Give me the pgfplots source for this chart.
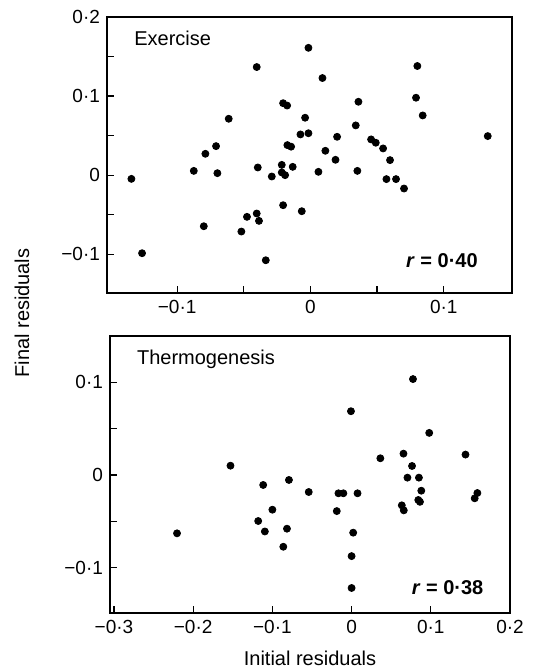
\documentclass[border=0pt]{standalone}
\usepackage{fontspec}
\setmainfont{Liberation Sans}
\usepackage{pgfplots}
\pgfplotsset{compat=1.18}
\begin{document}
\begin{tikzpicture}[x=1pt,y=1pt]
\useasboundingbox (0,0) rectangle (271.5,336);
\pgfplotsset{
 myax/.style={scale only axis, anchor=south west,
  axis line style={line width=1pt},
  tick style={line width=0.6pt, black},
  major tick length=3.5pt, tick align=inside,
  xtick pos=bottom, ytick pos=left,
  tick label style={font=\fontsize{9.5}{10}\selectfont},
 },
 dots/.style={only marks, mark=*, mark size=1.75pt, draw=black, fill=black, mark options={draw=black, fill=black}},
}
\begin{axis}[myax, at={(53.5pt,189.5pt)}, width=202.5pt, height=138pt,
 xmin=-0.1526, xmax=0.1512, ymin=-0.149, ymax=0.2,
 xtick={-0.1,-0.05,0,0.05,0.1}, xticklabels={−0·1,,0,,0·1},
 ytick={-0.1,-0.05,0,0.05,0.1,0.15,0.2}, yticklabels={−0·1,,0,,0·1,,0·2}]
\addplot[dots] coordinates {
(-0.1343,-0.0047) (-0.1263,-0.0987) (-0.0875,0.0054) (-0.0788,0.027) (-0.0708,0.0367)
(-0.0698,0.0025) (-0.080,-0.0646) (-0.0613,0.0713) (-0.0403,0.1367) (-0.0518,-0.0713)
(-0.0476,-0.0527) (-0.0403,-0.0485) (-0.0386,-0.0578) (-0.0395,0.0097) (-0.0335,-0.1076)
(-0.029,-0.0017) (-0.0215,0.013) (-0.0215,0.0034) (-0.019,0.0) (-0.0205,-0.038)
(-0.0133,0.0105) (-0.0205,0.091) (-0.0175,0.088) (-0.0173,0.038) (-0.0145,0.036)
(-0.0065,-0.0456) (-0.004,0.0726) (-0.0075,0.0515) (-0.0015,0.053) (-0.0015,0.161)
(0.006,0.0042) (0.009,0.1228) (0.0112,0.0308) (0.0188,0.0194) (0.020,0.0485)
(0.034,0.0629) (0.036,0.0928) (0.0352,0.0054) (0.0455,0.0452) (0.049,0.041)
(0.0545,0.0338) (0.0597,0.019) (0.057,-0.005) (0.0642,-0.005) (0.0702,-0.0169)
(0.0802,0.138) (0.0792,0.0979) (0.0842,0.0755) (0.133,0.0494)
};
\node[anchor=west, font=\fontsize{10}{11}\selectfont] at (rel axis cs:0.05,0.924) {Exercise};
\node[font=\bfseries\fontsize{10}{11}\selectfont] at (rel axis cs:0.827,0.116) {\textit{r} = 0·40};
\end{axis}
\begin{axis}[myax, at={(55pt,29.5pt)}, width=200pt, height=138.5pt,
 xmin=-0.305, xmax=0.2, ymin=-0.149, ymax=0.15,
 xtick={-0.3,-0.2,-0.1,0,0.1,0.2}, xticklabels={−0·3,−0·2,−0·1,0,0·1,0·2},
 ytick={-0.1,-0.05,0,0.05,0.1}, yticklabels={−0·1,,0,,0·1},
 xlabel={Initial residuals}, xlabel style={font=\fontsize{10}{11}\selectfont, yshift=-2pt}]
\addplot[dots] coordinates {
(-0.2204,-0.063) (-0.1529,0.010) (-0.1116,-0.0108) (-0.0791,-0.0054) (-0.0541,-0.0184)
(-0.100,-0.0375) (-0.1179,-0.0497) (-0.1095,-0.061) (-0.0816,-0.058) (-0.0862,-0.0775)
(-0.0166,-0.0198) (-0.0104,-0.0198) (-0.0187,-0.039) (0.0075,-0.0198) (-0.0008,0.0688)
(0.002,-0.0623) (0.0,-0.0876) (0.0,-0.122) (0.0363,0.018) (0.0655,0.023)
(0.0763,0.0097) (0.0705,-0.0029) (0.085,-0.0029) (0.088,-0.017) (0.0634,-0.0328)
(0.0659,-0.0382) (0.0842,-0.027) (0.0863,-0.029) (0.0775,0.1035) (0.098,0.0454)
(0.1438,0.022) (0.1588,-0.0195) (0.1554,-0.0252)
};
\node[anchor=west, font=\fontsize{10}{11}\selectfont] at (rel axis cs:0.05,0.917) {Thermogenesis};
\node[font=\bfseries\fontsize{10}{11}\selectfont] at (rel axis cs:0.844,0.09) {\textit{r} = 0·38};
\end{axis}
\node[rotate=90, font=\fontsize{10}{11}\selectfont] at (11,179.5) {Final residuals};
\end{tikzpicture}
\end{document}
